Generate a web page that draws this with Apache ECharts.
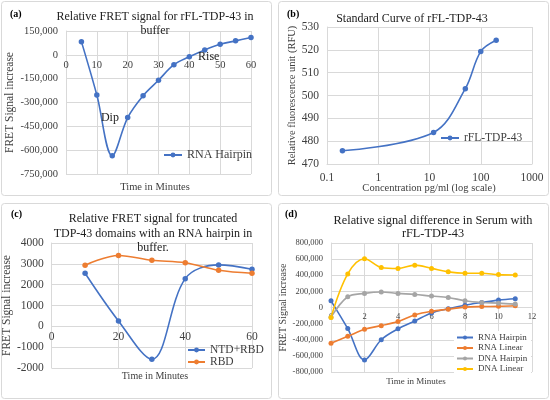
<!DOCTYPE html>
<html>
<head>
<meta charset="utf-8">
<script src="https://cdn.jsdelivr.net/npm/echarts@6/dist/echarts.min.js"></script>
<style>
  html, body { margin: 0; padding: 0; background: #fff; }
  #main { width: 550px; height: 400px; }
</style>
</head>
<body>
<div id="main"></div>
<script>
// (a) relative FRET signal, rFL-TDP-43 in buffer
const a_time = [5, 10, 15, 20, 25, 30, 35, 40, 45, 50, 55, 60];
const a_rnaHairpin = [83000, -253000, -635000, -395000, -257000, -160000, -62000, -12000, 31000, 66000, 88000, 109000];

// (b) standard curve
const b_conc = [0.2, 12, 50, 100, 200];
const b_rfu = [475.8, 483.8, 503, 519.3, 524.2];

// (c) truncated domains
const c_time = [10, 20, 30, 40, 50, 60];
const c_ntdRbd = [2550, 260, -1580, 2290, 2950, 2740];
const c_rbd = [2935, 3400, 3170, 3050, 2690, 2550];

// (d) serum
const d_time = [0, 1, 2, 3, 4, 5, 6, 7, 8, 9, 10, 11];
const d_rnaHairpin = [83000, -262000, -650000, -400000, -265000, -167000, -67000, -15000, 29000, 62000, 92000, 108000];
const d_rnaLinear = [-442000, -358000, -271000, -225000, -175000, -92000, -46000, -21000, 5000, 12000, 14000, 21000];
const d_dnaHairpin = [-120000, 133000, 175000, 192000, 175000, 162000, 142000, 125000, 83000, 62000, 54000, 42000];
const d_dnaLinear = [-125000, 417000, 604000, 496000, 483000, 525000, 485000, 442000, 425000, 425000, 408000, 404000];

const SERIF = 'Liberation Serif';
const BLUE = '#4472C4', ORANGE = '#ED7D31', GRAY = '#A5A5A5', YELLOW = '#FFC000';
const GRID_C = '#d9d9d9';
const TXT = '#404040';

// grid boxes (left, top, width, height)
const grids = [
  { left: 66, top: 31, width: 185, height: 143 },
  { left: 327, top: 27, width: 205, height: 137 },
  { left: 51, top: 243, width: 201, height: 125 },
  { left: 331, top: 243, width: 201, height: 129 }
];
// y ranges
const yr = [[-750000, 150000, 150000], [470, 530, 10], [-2000, 4000, 1000], [-800000, 800000, 200000]];

const pairs = (xs, ys) => xs.map((x, i) => [x, ys[i]]);
const comma = v => v.toLocaleString('en-US');
const plain = v => String(v);

function valAxis(gi, min, max, interval, fs, fmt) {
  return {
    type: 'value', gridIndex: gi, min, max, interval,
    axisLine: { show: true, onZero: false, lineStyle: { color: GRID_C } },
    axisTick: { show: false },
    splitLine: { show: true, lineStyle: { color: GRID_C } },
    axisLabel: { fontFamily: SERIF, fontSize: fs, color: TXT, formatter: fmt, margin: 8 }
  };
}

// x axis sitting on y = 0 (Excel style)
function zeroX(gi, min, max, interval, fs) {
  const ax = valAxis(gi, min, max, interval, fs, plain);
  const r = yr[gi];
  ax.offset = -grids[gi].height * (0 - r[0]) / (r[1] - r[0]);
  ax.axisLabel.margin = 5;
  return ax;
}

function yName(ax, name, gap, fs) {
  ax.name = name;
  ax.nameLocation = 'middle';
  ax.nameGap = gap;
  ax.nameTextStyle = { fontFamily: SERIF, fontSize: fs, color: TXT };
  return ax;
}

function line(name, xi, yi, data, color, extra) {
  return Object.assign({
    name, type: 'line', xAxisIndex: xi, yAxisIndex: yi, data,
    smooth: 0.35, symbol: 'circle', symbolSize: 5.5,
    lineStyle: { color, width: 1.6 }, itemStyle: { color },
    emphasis: { disabled: true }
  }, extra || {});
}

// labelled points for Dip / Rise in panel (a)
const aData = pairs(a_time, a_rnaHairpin).map(p => {
  if (p[0] === 20) return { value: p, label: { show: true, position: 'left', formatter: 'Dip', distance: 6 } };
  if (p[0] === 40) return { value: p, label: { show: true, position: 'right', formatter: 'Rise', distance: 6 } };
  return p;
});

const titleStyle = (fs, lh) => ({ fontFamily: SERIF, fontSize: fs, fontWeight: 'normal', color: '#222', lineHeight: lh });
const panelTag = { fontFamily: SERIF, fontSize: 10, fontWeight: 'bold', color: '#222' };
const xNameStyle = fs => ({ fontFamily: SERIF, fontSize: fs, fontWeight: 'normal', color: TXT });
const txt = (text, left, top, textStyle) => ({ text, left, top, textAlign: 'center', padding: 0, textStyle });

const option = {
  animation: false,
  backgroundColor: '#fff',
  title: [
    txt('Relative FRET signal for rFL-TDP-43 in\nbuffer', 155, 10, titleStyle(12, 14)),
    txt('Standard Curve of rFL-TDP-43', 412, 12, titleStyle(12, 14)),
    txt('Relative FRET signal for truncated\nTDP-43 domains with an RNA hairpin in\nbuffer.', 153, 212, titleStyle(12, 14.3)),
    txt('Relative signal difference in Serum with\nrFL-TDP-43', 433, 215, titleStyle(12.3, 12.5)),
    txt('Time in Minutes', 155, 182, xNameStyle(10.5)),
    txt('Concentration pg/ml (log scale)', 429, 183, xNameStyle(10.5)),
    txt('Time in Minutes', 155, 371, xNameStyle(10)),
    txt('Time in Minutes', 416, 377, xNameStyle(9))
  ],
  graphic: [
    { type: 'rect', shape: { x: 1.5, y: 1.5, width: 270, height: 194, r: 3 }, style: { fill: 'none', stroke: '#d9d9d9', lineWidth: 1 } },
    { type: 'rect', shape: { x: 278.5, y: 1.5, width: 270, height: 194, r: 3 }, style: { fill: 'none', stroke: '#d9d9d9', lineWidth: 1 } },
    { type: 'rect', shape: { x: 1.5, y: 203.5, width: 270, height: 195, r: 3 }, style: { fill: 'none', stroke: '#d9d9d9', lineWidth: 1 } },
    { type: 'rect', shape: { x: 278.5, y: 203.5, width: 270, height: 195, r: 3 }, style: { fill: 'none', stroke: '#d9d9d9', lineWidth: 1 } },
    { type: 'text', left: 10, top: 9, style: Object.assign({ text: '(a)' }, panelTag) },
    { type: 'text', left: 287, top: 9, style: Object.assign({ text: '(b)' }, panelTag) },
    { type: 'text', left: 11, top: 209, style: Object.assign({ text: '(c)' }, panelTag) },
    { type: 'text', left: 285, top: 209, style: Object.assign({ text: '(d)' }, panelTag) }
  ],
  legend: [
    { data: ['RNA Hairpin'], left: 158, top: 144, itemWidth: 18, itemHeight: 6,
      textStyle: { fontFamily: SERIF, fontSize: 12, color: TXT } },
    { data: ['rFL-TDP-43'], left: 435, top: 127, itemWidth: 18, itemHeight: 6,
      textStyle: { fontFamily: SERIF, fontSize: 11.5, color: TXT } },
    { data: ['NTD+RBD', 'RBD'], left: 182, top: 339, orient: 'vertical', itemGap: 0, itemWidth: 17, itemHeight: 6,
      textStyle: { fontFamily: SERIF, fontSize: 11.5, color: TXT } },
    { data: ['RNA Hairpin ', 'RNA Linear', 'DNA Hairpin', 'DNA Linear'], left: 454, top: 331, orient: 'vertical',
      itemGap: 1.5, itemWidth: 16, itemHeight: 5, padding: [2, 2, 2, 2], backgroundColor: '#fff',
      textStyle: { fontFamily: SERIF, fontSize: 9, color: TXT } }
  ],
  grid: grids,
  xAxis: [
    zeroX(0, 0, 60, 10, 10.5),
    {
      type: 'log', gridIndex: 1, logBase: 10, min: 0.1, max: 1000,
      axisLine: { show: true, lineStyle: { color: GRID_C } },
      axisTick: { show: false },
      splitLine: { show: true, lineStyle: { color: GRID_C } },
      axisLabel: { fontFamily: SERIF, fontSize: 11.5, color: TXT, margin: 8,
        formatter: v => String(parseFloat(Number(v).toPrecision(3))) }
    },
    zeroX(2, 0, 60, 20, 11.5),
    zeroX(3, 0, 12, 2, 8.5)
  ],
  yAxis: [
    yName(valAxis(0, yr[0][0], yr[0][1], yr[0][2], 10.5, comma), 'FRET Signal increase', 48, 11.5),
    yName(valAxis(1, yr[1][0], yr[1][1], yr[1][2], 11.5, plain), 'Relative fluorescence unit (RFU)', 22, 10.5),
    yName(valAxis(2, yr[2][0], yr[2][1], yr[2][2], 11.5, plain), 'FRET Signal increase', 32, 11.5),
    yName(valAxis(3, yr[3][0], yr[3][1], yr[3][2], 8.5, comma), 'FRET Signal increase', 43, 10)
  ],
  series: [
    line('RNA Hairpin', 0, 0, aData, BLUE, {
      label: { show: false, fontFamily: SERIF, fontSize: 12, color: '#222' }
    }),
    line('rFL-TDP-43', 1, 1, pairs(b_conc, b_rfu), BLUE),
    line('NTD+RBD', 2, 2, pairs(c_time, c_ntdRbd), BLUE),
    line('RBD', 2, 2, pairs(c_time, c_rbd), ORANGE),
    line('RNA Hairpin ', 3, 3, pairs(d_time, d_rnaHairpin), BLUE, { symbolSize: 5 }),
    line('RNA Linear', 3, 3, pairs(d_time, d_rnaLinear), ORANGE, { symbolSize: 5 }),
    line('DNA Hairpin', 3, 3, pairs(d_time, d_dnaHairpin), GRAY, { symbolSize: 5 }),
    line('DNA Linear', 3, 3, pairs(d_time, d_dnaLinear), YELLOW, { symbolSize: 5 })
  ]
};

const chart = echarts.init(document.getElementById('main'), null, { renderer: 'canvas' });
chart.setOption(option);
</script>
</body>
</html>
